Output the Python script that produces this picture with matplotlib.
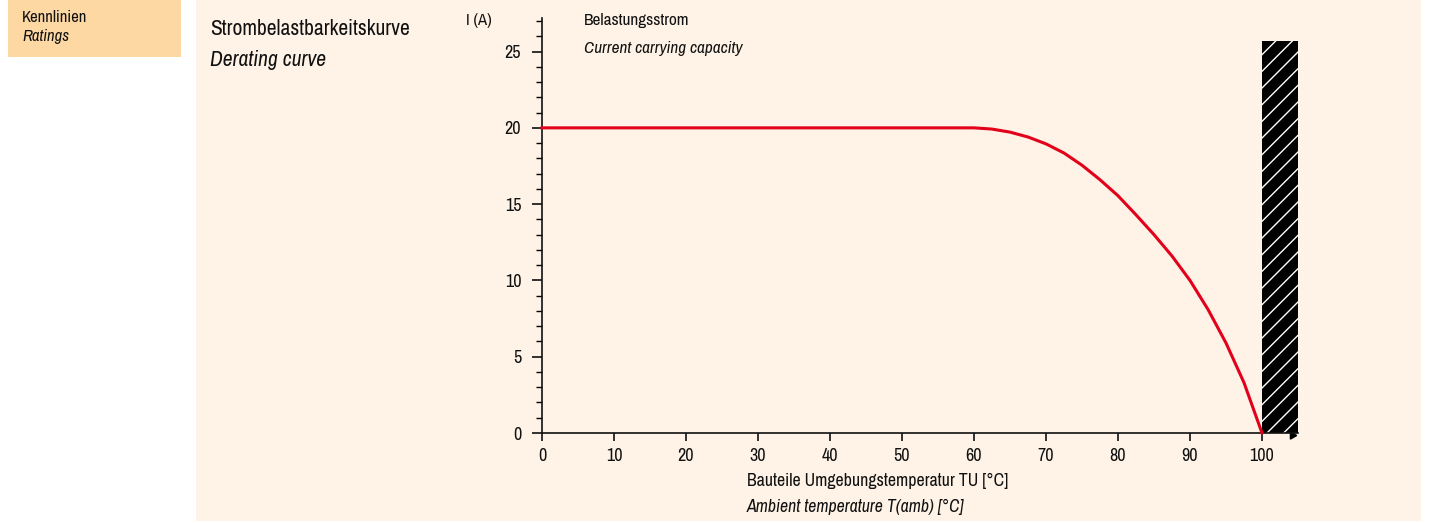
import matplotlib.pyplot as plt
from matplotlib.patches import Rectangle
from matplotlib import font_manager

# temperature (degC) and current carrying capacity (A)
temps = [0, 60, 62.5, 65, 67.5, 70, 72.5, 75, 77.5, 80, 82.5, 85, 87.5, 90, 92.5, 95, 97.5, 100]
current = [20, 20, 19.92, 19.72, 19.4, 18.95, 18.35, 17.55, 16.6, 15.55, 14.3, 13.0, 11.6, 10.0, 8.1, 5.9, 3.3, 0]

x_ticks = [0, 10, 20, 30, 40, 50, 60, 70, 80, 90, 100]
y_ticks = [0, 5, 10, 15, 20, 25]
limit_temp = 100
limit_width = 5
limit_height = 25.7

narrow = [f.name for f in font_manager.fontManager.ttflist
          if 'Narrow' in f.name or 'Condensed' in f.name]
if narrow:
    plt.rcParams['font.family'] = [narrow[0], 'DejaVu Sans']
else:
    plt.rcParams['font.family'] = ['DejaVu Sans']
    plt.rcParams['font.stretch'] = 'condensed'
plt.rcParams['hatch.color'] = 'white'
plt.rcParams['hatch.linewidth'] = 1.0

W, H = 1429, 523
fig = plt.figure(figsize=(W / 100, H / 100), dpi=100)

def px_rect(x0, y0, x1, y1, color):
    fig.patches.append(Rectangle((x0 / W, 1 - y1 / H), (x1 - x0) / W, (y1 - y0) / H,
                                 transform=fig.transFigure, facecolor=color,
                                 edgecolor='none', zorder=-5))

def px_text(x, y, s, **kw):
    fig.text(x / W, 1 - y / H, s, va='center', ha='left', color='#111111', **kw)

px_rect(8, 0, 181, 57, '#FDD8A3')
px_rect(196, 0, 1421, 521, '#FEF3E6')

px_text(22, 17, 'Kennlinien', fontsize=12)
px_text(22, 36, 'Ratings', fontsize=12, style='italic')
px_text(210, 29, 'Strombelastbarkeitskurve', fontsize=15.5)
px_text(210, 60, 'Derating curve', fontsize=15.5, style='italic')

ax = fig.add_axes([542 / W, 1 - 433 / H, 756 / W, 415 / H])
ax.set_facecolor('none')
ax.set_zorder(2)
ax.set_xlim(0, 105)
ax.set_ylim(0, 27.2)

ax.plot(temps, current, color='#E2001A', linewidth=2.2, zorder=3, clip_on=False,
        solid_joinstyle='round')

ax.bar(limit_temp, limit_height, width=limit_width, align='edge', color='black',
       edgecolor='white', hatch='//', linewidth=0, zorder=2)

for s in ['top', 'right']:
    ax.spines[s].set_visible(False)
for s in ['left', 'bottom']:
    ax.spines[s].set_linewidth(1.2)
    ax.spines[s].set_color('#111111')

ax.set_xticks(x_ticks)
ax.set_yticks(y_ticks)
ax.set_yticks(range(0, 28), minor=True)
ax.tick_params(axis='both', direction='out', colors='#111111', labelsize=13)
ax.tick_params(axis='y', which='major', length=7, width=1.2, pad=8)
ax.tick_params(axis='y', which='minor', length=4, width=1)
ax.tick_params(axis='x', which='major', length=6, width=1.2, pad=5)

# small arrow at the end of the x axis
ax.plot([104.2], [-0.15], marker=(3, 0, -90), color='black', markersize=6, clip_on=False)

px_text(466, 20, 'I (A)', fontsize=12, weight='bold')
px_text(584, 21, 'Belastungsstrom', fontsize=12.4)
px_text(584, 48, 'Current carrying capacity', fontsize=12.4, style='italic')
px_text(747, 481, 'Bauteile Umgebungstemperatur TU [°C]', fontsize=12.8)
px_text(747, 507, 'Ambient temperature T(amb) [°C]', fontsize=12.8, style='italic')

fig.savefig('out.png', dpi=100)
